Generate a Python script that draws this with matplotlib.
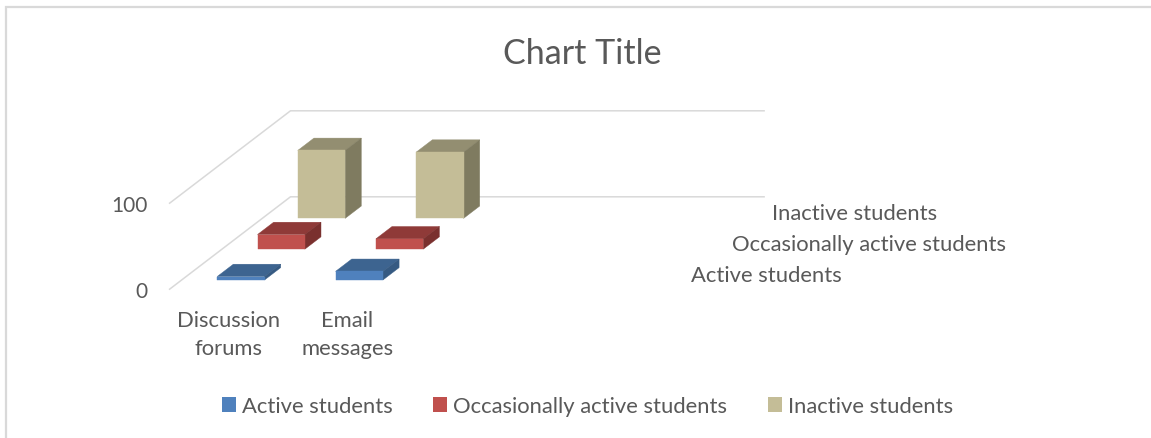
# 3D style clustered column chart, drawn with an oblique projection

import matplotlib
matplotlib.use("Agg")
import matplotlib.pyplot as plt
from matplotlib.patches import Patch, Polygon

plt.rcParams['font.family'] = ['Lato', 'DejaVu Sans']

categories = ["Discussion\nforums", "Email\nmessages", "", ""]
series = ["Active students", "Occasionally active students", "Inactive students"]
active = [4, 10]
occasional = [17, 12]
inactive = [79, 77]
values = [active, occasional, inactive]
yticks = [0, 100]

front = ["#4f81bd", "#c0504d", "#c4bd97"]
top = ["#3d6490", "#8f3a38", "#938e71"]
side = ["#365a82", "#7a302e", "#7f7b60"]
text_col = "#595959"
grid_col = "#d9d9d9"

W, H = 1151, 439

# projection of chart coordinates to pixels
x0, y0 = 169.6, 290.2
cat_w = 118.4
ser_dx, ser_dy = 40.3, -30.8
px_per_unit = 0.86
fs = 15.8


def proj(cat, ser, val):
    return (x0 + cat * cat_w + ser * ser_dx, y0 + ser * ser_dy - val * px_per_unit)


fig = plt.figure(figsize=(W / 100, H / 100), dpi=100)
ax = fig.add_axes([0, 0, 1, 1])
ax.set_xlim(0, W)
ax.set_ylim(H, 0)
ax.axis('off')

# chart border, open at the bottom
ax.plot([6.5, 6.5, W], [H, 8, 8], color=grid_col, lw=1.6, solid_joinstyle='miter')

# gridlines on floor and back wall
for v in yticks:
    p = [proj(0, 0, v), proj(0, 3, v), proj(4, 3, v)]
    ax.plot([q[0] for q in p], [q[1] for q in p], color=grid_col, lw=1.1, zorder=1)
    ax.text(148, proj(0, 0, v)[1] + 1.8, str(v), ha='right', va='center', fontsize=15, color=text_col)

# bars, back series first
bar_w = 0.4
bar_d = 0.4
for s in range(len(series) - 1, -1, -1):
    for c, val in enumerate(values[s]):
        c0, c1 = c + 0.5 - bar_w / 2, c + 0.5 + bar_w / 2
        s0, s1 = s + 0.5 - bar_d / 2, s + 0.5 + bar_d / 2
        z = 2 + (2 - s)
        face = [proj(c0, s0, 0), proj(c1, s0, 0), proj(c1, s0, val), proj(c0, s0, val)]
        roof = [proj(c0, s0, val), proj(c1, s0, val), proj(c1, s1, val), proj(c0, s1, val)]
        wall = [proj(c1, s0, 0), proj(c1, s1, 0), proj(c1, s1, val), proj(c1, s0, val)]
        ax.add_patch(Polygon(roof, fc=top[s], ec=top[s], lw=0.3, zorder=z))
        ax.add_patch(Polygon(wall, fc=side[s], ec=side[s], lw=0.3, zorder=z))
        ax.add_patch(Polygon(face, fc=front[s], ec=front[s], lw=0.3, zorder=z))

# category labels
for c, lab in enumerate(categories):
    if lab:
        ax.text(proj(c + 0.5, 0, 0)[0], 335, lab, ha='center', va='center',
                fontsize=fs, color=text_col, linespacing=1.5)

# series axis labels
for s, lab in enumerate(series):
    px, py = proj(4, s + 0.5, 0)
    ax.text(px + 28, py + 1.3, lab, ha='left', va='center', fontsize=fs, color=text_col)

ax.text(582.5, 54, "Chart Title", ha='center', va='center', fontsize=24.5, color=text_col)

handles = [Patch(fc=front[i], ec='none', label=series[i]) for i in range(3)]
ax.legend(handles=handles, ncol=3, loc='center', bbox_to_anchor=(587.5 / W, 1 - 407 / H),
          bbox_transform=fig.transFigure, frameon=False, fontsize=fs, labelcolor=text_col,
          handlelength=0.64, handleheight=0.67, handletextpad=0.27, columnspacing=1.87,
          borderpad=0, borderaxespad=0)

plt.savefig('out.png', dpi=100)
